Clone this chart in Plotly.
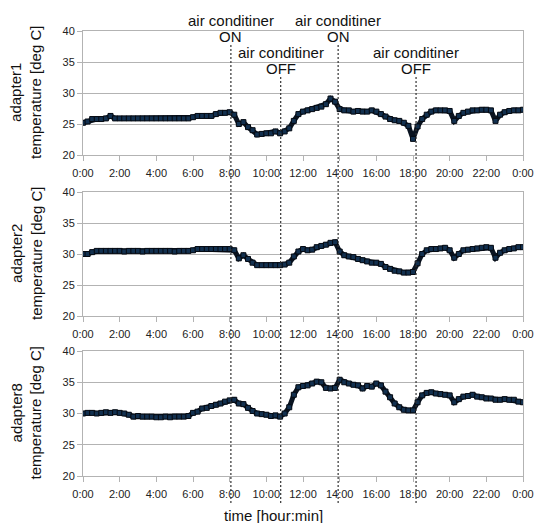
import plotly.graph_objects as go

W, H = 535, 523

# time grid (minutes since 0:00), every 15 minutes
minutes = list(range(0, 24 * 60 + 1, 15))

adapter1 = [
    25.2, 25.4, 25.8, 25.8,
    25.8, 25.9, 26.3, 25.9,
    25.9, 25.9, 25.9, 25.9,
    25.9, 25.9, 25.9, 25.9,
    25.9, 25.9, 25.9, 25.9,
    25.9, 25.9, 25.9, 25.9,
    26.1, 26.3, 26.3, 26.3,
    26.3, 26.6, 26.8, 26.8,
    26.9, 26.5, 25.0, 25.3,
    24.5, 24.0, 23.3, 23.4,
    23.5, 23.5, 23.8, 23.5,
    23.8, 24.3, 25.5, 26.6,
    27.0, 27.2, 27.4, 27.6,
    27.8, 28.2, 29.1, 28.6,
    27.4, 27.2, 27.2, 27.0,
    27.1, 27.0, 27.0, 27.2,
    27.0, 26.6, 26.2, 25.8,
    25.6, 25.5, 25.2, 24.7,
    22.6, 24.6, 25.8, 26.5,
    27.0, 27.2, 27.2, 27.2,
    27.1, 25.5, 26.3, 26.8,
    27.0, 27.2, 27.2, 27.3,
    27.3, 27.2, 25.5, 26.5,
    26.9, 27.1, 27.2, 27.2,
    27.3,
]

adapter2 = [
    30.0, 30.0, 30.3, 30.5,
    30.5, 30.5, 30.5, 30.5,
    30.5, 30.4, 30.5, 30.5,
    30.5, 30.4, 30.5, 30.5,
    30.5, 30.5, 30.5, 30.5,
    30.4, 30.5, 30.5, 30.5,
    30.6, 30.8, 30.8, 30.8,
    30.8, 30.8, 30.8, 30.8,
    30.8, 30.6, 29.3, 29.8,
    29.2, 28.6, 28.2, 28.2,
    28.2, 28.2, 28.2, 28.2,
    28.3, 28.6, 29.6, 30.4,
    30.8, 30.6, 30.7, 31.1,
    31.3, 31.5, 31.8, 31.9,
    30.4, 29.8, 29.6, 29.5,
    29.2, 29.0, 28.8, 28.6,
    28.6, 28.4, 27.9, 27.6,
    27.3, 27.2, 27.0, 27.0,
    27.1, 28.5, 30.0, 30.6,
    30.8, 30.8, 30.9, 31.0,
    30.6, 29.4, 30.0, 30.6,
    30.7, 30.8, 30.9, 31.0,
    31.1, 31.0, 29.4, 30.2,
    30.6, 30.8, 30.9, 31.1,
    31.1,
]

adapter8 = [
    30.0, 30.1, 30.1, 30.0,
    30.1, 30.2, 30.1, 30.2,
    30.1, 30.0, 29.8, 29.5,
    29.6, 29.5, 29.5, 29.5,
    29.4, 29.4, 29.5, 29.4,
    29.5, 29.5, 29.5, 29.6,
    30.1, 30.3, 30.8, 30.9,
    31.2, 31.4, 31.6, 31.9,
    32.1, 32.2, 31.6, 31.5,
    30.9, 30.4, 30.0, 29.9,
    29.8, 29.6, 29.7, 29.5,
    30.0, 31.0, 33.0, 34.2,
    34.4, 34.5, 34.8, 35.1,
    35.0, 34.1, 34.0, 34.1,
    35.4, 35.0, 34.8, 34.6,
    34.5, 34.0, 34.4, 34.3,
    34.8, 34.5, 33.5, 32.6,
    31.6, 31.0, 30.6, 30.5,
    30.5, 31.8, 32.9, 33.3,
    33.4, 33.2, 33.1, 33.0,
    32.9, 31.8, 32.3, 32.7,
    32.8, 33.0, 32.7, 32.6,
    32.4, 32.4, 32.2, 32.2,
    32.3, 32.2, 32.2, 31.9,
    31.8,
]

series_names = ["adapter1", "adapter2", "adapter8"]
series_values = [adapter1, adapter2, adapter8]

tick_minutes = list(range(0, 24 * 60 + 1, 120))
tick_labels = ["0:00", "2:00", "4:00", "6:00", "8:00", "10:00", "12:00",
               "14:00", "16:00", "18:00", "20:00", "22:00", "0:00"]
y_ticks = [20, 25, 30, 35, 40]

# air conditioner events (minutes) and labels
event_minutes = [484, 647, 835, 1090]
event_states = ["ON", "OFF", "ON", "OFF"]

FONT = "Liberation Sans, Arial, sans-serif"
GRID = "#b3b3b3"


def py(px):
    return 1 - px / H


x_dom = [83 / W, 523 / W]
panels_px = [(31, 155), (192, 316), (351, 476)]

fig = go.Figure()
for i, (name, vals) in enumerate(zip(series_names, series_values)):
    sfx = "" if i == 0 else str(i + 1)
    fig.add_trace(go.Scatter(
        x=minutes, y=vals, mode="lines+markers",
        line=dict(color="#0a1421", width=5),
        marker=dict(symbol="square", size=5, color="#12304f",
                    line=dict(color="#050a12", width=1)),
        xaxis="x" + sfx, yaxis="y" + sfx, showlegend=False,
        hoverinfo="skip",
    ))
    top, bot = panels_px[i]
    fig.layout["xaxis" + sfx] = dict(
        domain=x_dom, anchor="y" + sfx, range=[0, 1440],
        tickvals=tick_minutes, ticktext=tick_labels,
        showgrid=False, showline=True, linecolor=GRID, linewidth=1,
        mirror=True, ticks="outside", ticklen=5, tickcolor=GRID,
        tickfont=dict(family=FONT, size=11, color="#222"),
        ticklabelstandoff=3, zeroline=False, automargin=False,
    )
    fig.layout["yaxis" + sfx] = dict(
        domain=[py(bot), py(top)], anchor="x" + sfx, range=[20, 40],
        tickvals=y_ticks, showgrid=True, gridcolor=GRID, gridwidth=1,
        showline=True, linecolor=GRID, linewidth=1, mirror=True,
        ticks="outside", ticklen=5, tickcolor=GRID,
        tickfont=dict(family=FONT, size=11, color="#222"),
        zeroline=False, automargin=False,
    )
    fig.add_annotation(
        x=26 / W, y=py((top + bot) / 2), xref="paper", yref="paper",
        text=name + "<br>temperature [deg C]", textangle=-90,
        showarrow=False, xanchor="center", yanchor="middle",
        font=dict(family=FONT, size=15, color="#111"),
    )

# event lines and labels
for m, st in zip(event_minutes, event_states):
    if st == "ON":
        y_top_px, l1, l2 = 43, 20.5, 36.5
    else:
        y_top_px, l1, l2 = 75, 52, 68.5
    fig.add_shape(type="line", xref="x", yref="paper", x0=m, x1=m,
                  y0=py(503), y1=py(y_top_px),
                  line=dict(color="#333", width=1.2, dash="2px,2px"))
    fig.add_annotation(x=m, y=py(l1), xref="x", yref="paper",
                       text="air conditiner", showarrow=False,
                       xanchor="center", yanchor="middle",
                       font=dict(family=FONT, size=15, color="#111"))
    fig.add_annotation(x=m, y=py(l2), xref="x", yref="paper",
                       text=st, showarrow=False,
                       xanchor="center", yanchor="middle",
                       font=dict(family=FONT, size=15, color="#111"))

fig.add_annotation(x=273 / W, y=py(515), xref="paper", yref="paper",
                   text="time [hour:min]", showarrow=False,
                   xanchor="center", yanchor="middle",
                   font=dict(family=FONT, size=15, color="#111"))

fig.update_layout(
    width=W, height=H, margin=dict(l=0, r=0, t=0, b=0),
    paper_bgcolor="white", plot_bgcolor="white",
)

fig.write_html(
    "out.html",
    config={"displayModeBar": False},
    post_script="document.body.style.margin='0';document.body.style.padding='0';",
)
